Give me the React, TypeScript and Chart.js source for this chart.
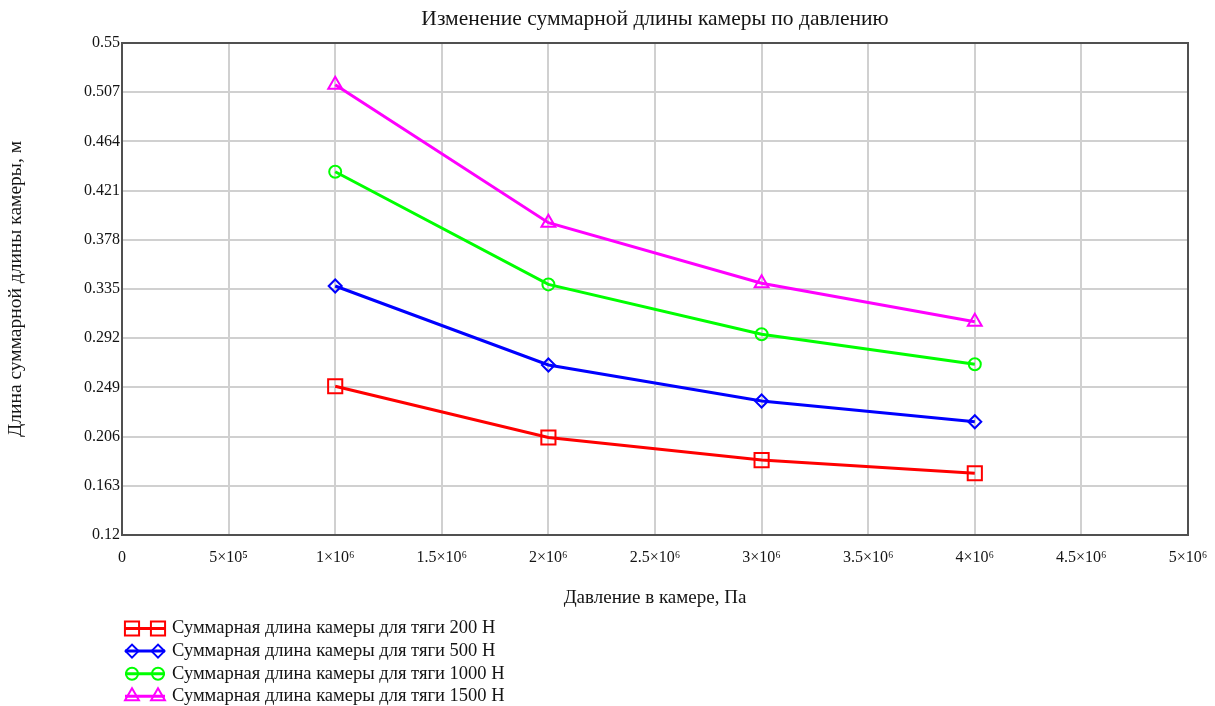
import React, { useEffect, useRef } from "react";
import { Chart, registerables } from "chart.js";
import { drawPoint } from "chart.js/helpers";

Chart.register(...registerables);

// ---- data ----
const pressure = [1e6, 2e6, 3e6, 4e6];
const len200 = [0.2500, 0.2052, 0.1855, 0.1740];
const len500 = [0.3376, 0.2686, 0.2371, 0.2190];
const len1000 = [0.4375, 0.3390, 0.2954, 0.2692];
const len1500 = [0.5135, 0.3930, 0.3400, 0.3064];

const seriesLabels = [
  "Суммарная длина камеры для тяги 200 Н",
  "Суммарная длина камеры для тяги 500 Н",
  "Суммарная длина камеры для тяги 1000 Н",
  "Суммарная длина камеры для тяги 1500 Н",
];
const seriesColors = ["#ff0000", "#0000ff", "#00ff00", "#ff00ff"];
const seriesMarkers = ["rect", "rectRot", "circle", "triangle"];
const seriesMarkerSizes = [10, 6.5, 6, 8];

const xTickValues = [0, 5e5, 1e6, 1.5e6, 2e6, 2.5e6, 3e6, 3.5e6, 4e6, 4.5e6, 5e6];
const xTickLabels = ["0", "5×10⁵", "1×10⁶", "1.5×10⁶", "2×10⁶", "2.5×10⁶", "3×10⁶", "3.5×10⁶", "4×10⁶", "4.5×10⁶", "5×10⁶"];
const yTickValues = [0.12, 0.163, 0.206, 0.249, 0.292, 0.335, 0.378, 0.421, 0.464, 0.507, 0.55];
const yTickLabels = ["0.12", "0.163", "0.206", "0.249", "0.292", "0.335", "0.378", "0.421", "0.464", "0.507", "0.55"];

const titleText = "Изменение суммарной длины камеры по давлению";
const xTitle = "Давление в камере, Па";
const yTitle = "Длина суммарной длины камеры, м";

const FONT = "'Liberation Serif', 'Times New Roman', serif";
const TEXT = "#141414";

const seriesValues = [len200, len500, len1000, len1500];

const framePlugin = {
  id: "frame",
  beforeDatasetsDraw(chart: any) {
    const { ctx, chartArea } = chart;
    ctx.save();
    ctx.strokeStyle = "#505050";
    ctx.lineWidth = 2;
    ctx.strokeRect(chartArea.left, chartArea.top, chartArea.right - chartArea.left, chartArea.bottom - chartArea.top);
    ctx.restore();
  },
};

const legendPlugin = {
  id: "stackedLegend",
  afterDraw(chart: any) {
    const { ctx, chartArea } = chart;
    ctx.save();
    chart.data.datasets.forEach((ds: any, i: number) => {
      const y = chartArea.bottom + 93.5 + i * 22.6;
      const x0 = chartArea.left + 3;
      const x1 = x0 + 40;
      ctx.strokeStyle = ds.borderColor;
      ctx.fillStyle = "rgba(0,0,0,0)";
      ctx.lineWidth = 3;
      ctx.beginPath();
      ctx.moveTo(x0, y);
      ctx.lineTo(x1, y);
      ctx.stroke();
      ctx.lineWidth = 2;
      const opts = { pointStyle: ds.pointStyle, radius: ds.pointRadius, rotation: 0, borderWidth: 2 };
      drawPoint(ctx, opts, x0 + 7, y);
      drawPoint(ctx, opts, x1 - 7, y);
      ctx.fillStyle = TEXT;
      ctx.font = `18.5px ${FONT}`;
      ctx.textBaseline = "middle";
      ctx.textAlign = "left";
      ctx.fillText(ds.label, x1 + 7, y);
    });
    ctx.restore();
  },
};

export default function App() {
  const ref = useRef<HTMLCanvasElement | null>(null);

  useEffect(() => {
    document.body.style.margin = "0";
    const canvas = ref.current;
    if (!canvas) return;
    const chart = new Chart(canvas, {
      type: "line",
      data: {
        datasets: seriesValues.map((vals, i) => ({
          label: seriesLabels[i],
          data: pressure.map((p, j) => ({ x: p, y: vals[j] })),
          borderColor: seriesColors[i],
          backgroundColor: "rgba(0,0,0,0)",
          pointBackgroundColor: "rgba(0,0,0,0)",
          pointBorderColor: seriesColors[i],
          pointStyle: seriesMarkers[i] as any,
          pointRadius: seriesMarkerSizes[i],
          pointBorderWidth: 2,
          borderWidth: 3,
          tension: 0,
          fill: false,
        })),
      },
      options: {
        animation: false,
        responsive: true,
        maintainAspectRatio: false,
        layout: { padding: { top: 0, right: 27, left: 0, bottom: 0 } },
        plugins: {
          legend: { display: false },
          tooltip: { enabled: false },
          title: {
            display: true,
            fullSize: false,
            text: titleText,
            color: TEXT,
            font: { family: FONT, size: 21.5, weight: "normal" },
            padding: { top: 6.5, bottom: 10.7 },
          },
        },
        scales: {
          x: {
            type: "linear",
            min: 0,
            max: 5e6,
            afterBuildTicks: (scale: any) => {
              scale.ticks = xTickValues.map((v) => ({ value: v }));
            },
            afterFit: (scale: any) => {
              scale.height = 171;
              scale.paddingRight = 20;
              scale.paddingLeft = 0;
            },
            ticks: {
              color: TEXT,
              font: { family: FONT, size: 16 },
              padding: 13,
              maxRotation: 0,
              autoSkip: false,
              callback: (v: any) => {
                const idx = xTickValues.indexOf(Number(v));
                return idx >= 0 ? xTickLabels[idx] : "";
              },
            },
            grid: { color: "#d0d0d0", lineWidth: 2, drawTicks: false },
            border: { display: false },
            title: {
              display: true,
              text: xTitle,
              color: TEXT,
              font: { family: FONT, size: 19 },
              padding: { top: 0, bottom: 97 },
            },
          },
          y: {
            type: "linear",
            min: 0.12,
            max: 0.55,
            afterBuildTicks: (scale: any) => {
              scale.ticks = yTickValues.map((v) => ({ value: v }));
            },
            afterFit: (scale: any) => {
              scale.width = 122;
            },
            ticks: {
              color: TEXT,
              font: { family: FONT, size: 16 },
              padding: 2,
              autoSkip: false,
              callback: (v: any) => {
                const idx = yTickValues.findIndex((t) => Math.abs(t - Number(v)) < 1e-9);
                return idx >= 0 ? yTickLabels[idx] : "";
              },
            },
            grid: { color: "#d0d0d0", lineWidth: 2, drawTicks: false },
            border: { display: false },
            title: {
              display: true,
              text: yTitle,
              color: TEXT,
              font: { family: FONT, size: 19.5 },
              padding: { top: 4, bottom: 0 },
            },
          },
        },
      },
      plugins: [framePlugin, legendPlugin],
    });
    return () => chart.destroy();
  }, []);

  return (
    <div style={{ position: "fixed", left: 0, top: 0, width: 1215, height: 706, background: "#ffffff" }}>
      <canvas ref={ref} />
    </div>
  );
}
